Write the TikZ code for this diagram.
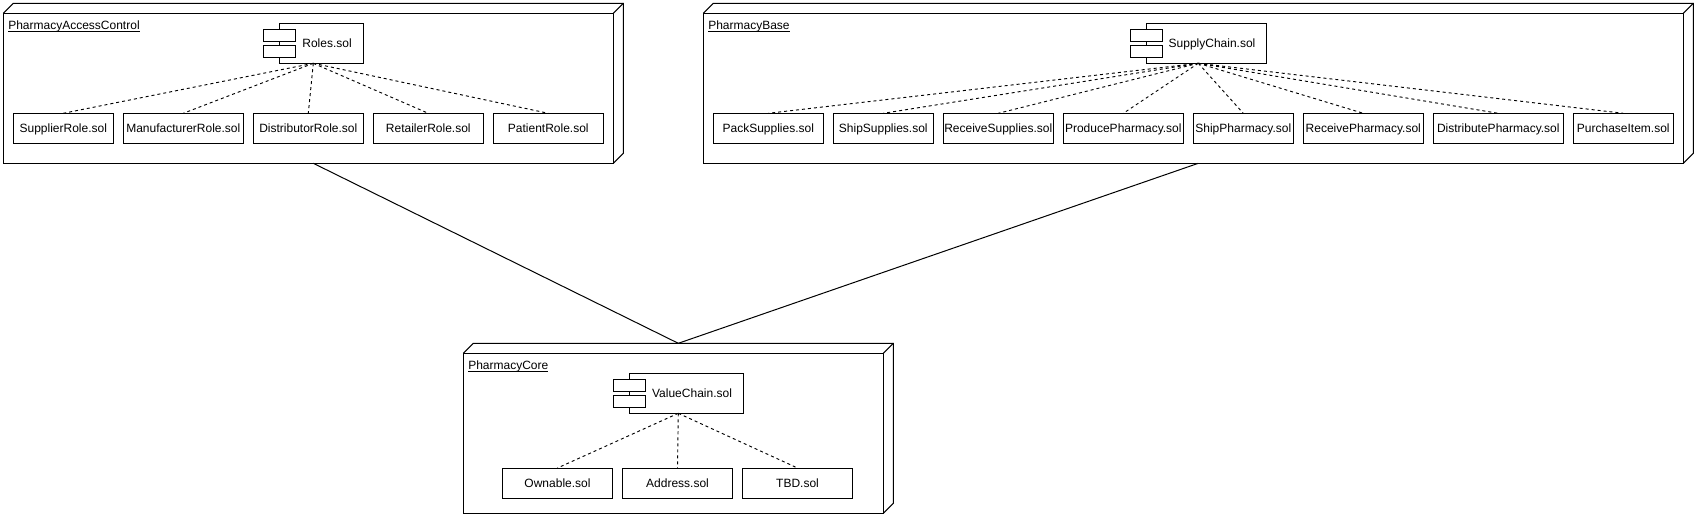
\documentclass[tikz,border=0pt]{standalone}
\usepackage{fontspec}
\setmainfont{Liberation Sans}
\newcommand{\tightul}[1]{\setbox0=\hbox{#1}\rlap{\copy0}\raisebox{-1.45pt}{\rule{\wd0}{0.7pt}}}
\tikzset{
  boxw/.style={minimum width=#1*0.75pt},
  boxh/.style={minimum height=#1*0.75pt},
  nosep/.style={inner sep=0pt,outer sep=0pt},
  shapeline/.style={draw=black,line width=0.75pt},
  labeltext/.style={font=\fontsize{9pt}{10.5pt}\selectfont,text=black},
  filebox/.style={shapeline,nosep,labeltext,anchor=north west,boxh=30,text height=8pt,text depth=2pt},
  corefile/.style={filebox,text height=8.5pt,text depth=1.5pt},
  depline/.style={draw=black,line width=0.7pt,dash pattern=on 2.25pt off 2.25pt},
  link/.style={draw=black,line width=0.75pt}
}
\newcommand{\deployframe}[6]{%
  \node[nosep,anchor=north west,boxw=#4,boxh=#5] (#1) at (#2,#3) {};
  \draw[shapeline] ([yshift=-7.5pt]#1.north west) rectangle ([xshift=-7.5pt]#1.south east);
  \draw[shapeline,line join=miter] ([yshift=-7.5pt]#1.north west) -- ([xshift=7.5pt]#1.north west) -- (#1.north east) -- ([yshift=7.5pt]#1.south east) -- ([xshift=-7.5pt]#1.south east);
  \draw[shapeline] ([shift={(-7.5pt,-7.5pt)}]#1.north east) -- (#1.north east);
  \node[nosep,labeltext,anchor=base west] (#1label) at ([shift={(3.75pt,-19.8pt)}]#1.north west) {\tightul{#6}};
}
\newcommand{\compnode}[5]{%
  \node[nosep,anchor=north west,boxw=#4,boxh=40] (#1) at (#2,#3) {};
  \draw[shapeline] ([xshift=12pt]#1.north west) rectangle (#1.south east);
  \draw[shapeline,fill=white] ([yshift=-4.5pt]#1.north west) rectangle ([shift={(24pt,-13.5pt)}]#1.north west);
  \draw[shapeline,fill=white] ([yshift=-16.5pt]#1.north west) rectangle ([shift={(24pt,-25.5pt)}]#1.north west);
  \node[nosep,labeltext,text height=8pt,text depth=2pt] (#1text) at ([xshift=10.3pt]#1.center) {#5};
}
\begin{document}
\begin{tikzpicture}[x=0.75pt,y=-0.75pt]
\useasboundingbox (0,0) rectangle (1697,517);

% PharmacyAccessControl
\deployframe{access}{3.3}{3.3}{620}{160}{PharmacyAccessControl}
\compnode{roles}{263.3}{23.3}{100}{Roles.sol}
\node[filebox,boxw=100] (supplier) at (13.3,113.3) {SupplierRole.sol};
\node[filebox,boxw=120] (manufacturer) at (123.3,113.3) {ManufacturerRole.sol};
\node[filebox,boxw=110] (distributor) at (253.3,113.3) {DistributorRole.sol};
\node[filebox,boxw=110] (retailer) at (373.3,113.3) {RetailerRole.sol};
\node[filebox,boxw=110] (patient) at (493.3,113.3) {PatientRole.sol};
\foreach \t in {supplier,manufacturer,distributor,retailer,patient}
  \draw[depline] (roles.south) -- (\t.north);

% PharmacyBase
\deployframe{base}{703.3}{3.3}{990}{160}{PharmacyBase}
\compnode{supply}{1130.3}{23.3}{136}{SupplyChain.sol}
\node[filebox,boxw=110] (pack) at (713.3,113.3) {PackSupplies.sol};
\node[filebox,boxw=100] (shipsup) at (833.3,113.3) {ShipSupplies.sol};
\node[filebox,boxw=110] (recsup) at (943.3,113.3) {ReceiveSupplies.sol};
\node[filebox,boxw=120] (produce) at (1063.3,113.3) {ProducePharmacy.sol};
\node[filebox,boxw=100] (shipph) at (1193.3,113.3) {ShipPharmacy.sol};
\node[filebox,boxw=120] (recph) at (1303.3,113.3) {ReceivePharmacy.sol};
\node[filebox,boxw=130] (distph) at (1433.3,113.3) {DistributePharmacy.sol};
\node[filebox,boxw=100] (purchase) at (1573.3,113.3) {PurchaseItem.sol};
\foreach \t in {pack,shipsup,recsup,produce,shipph,recph,distph,purchase}
  \draw[depline] (supply.south) -- (\t.north);

% PharmacyCore
\deployframe{core}{463.3}{343.3}{430}{170}{PharmacyCore}
\compnode{value}{613.3}{373.3}{130}{ValueChain.sol}
\node[corefile,boxw=110] (ownable) at (502.5,468) {Ownable.sol};
\node[corefile,boxw=110] (address) at (622.5,468) {Address.sol};
\node[corefile,boxw=110] (tbd) at (742.5,468) {TBD.sol};
\foreach \t in {ownable,address,tbd}
  \draw[depline] (value.south) -- (\t.north);

% links between the frames
\draw[link] (access.south) -- (core.north);
\draw[link] (base.south) -- (core.north);
\end{tikzpicture}
\end{document}
